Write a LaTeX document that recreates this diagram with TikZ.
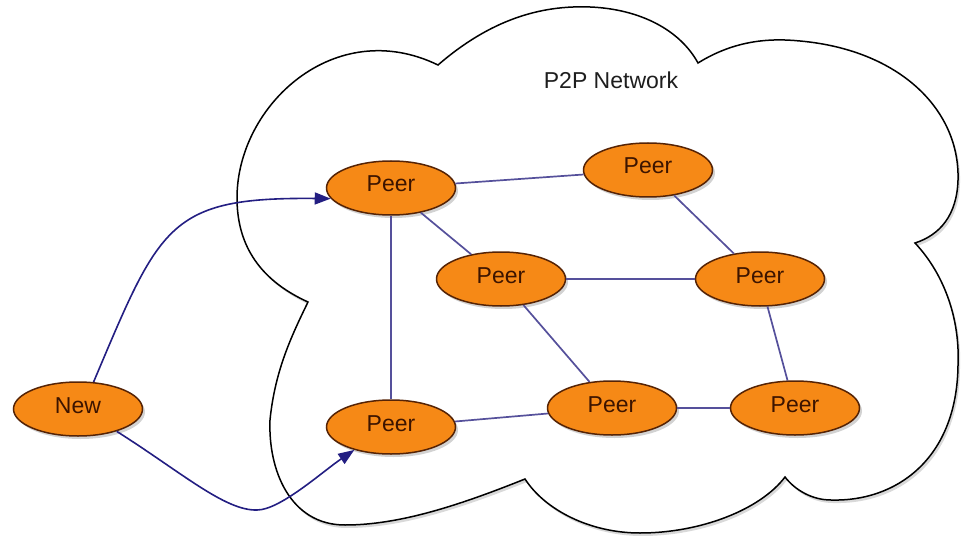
\documentclass[tikz,border=0pt]{standalone}
\usepackage{fontspec}
\setmainfont{Liberation Sans}
\usetikzlibrary{shapes.geometric,shadows,arrows.meta}
\definecolor{peerfill}{RGB}{246,137,22}
\definecolor{peerline}{RGB}{85,35,5}
\definecolor{peertext}{RGB}{60,20,0}
\definecolor{edgecol}{RGB}{85,80,155}
\definecolor{arrowcol}{RGB}{35,30,130}
\definecolor{labeltext}{RGB}{30,30,30}
\begin{document}
\begin{tikzpicture}[x=1pt,y=-1pt,
  peer/.style={ellipse, draw=peerline, line width=1.5pt, fill=peerfill,
    minimum width=129pt, minimum height=54pt, inner sep=0pt, text=peertext,
    font=\fontsize{23}{27}\selectfont, text height=17pt, text depth=9pt,
    drop shadow={shadow xshift=2.5pt, shadow yshift=-3pt, opacity=0.35}},
  link/.style={draw=edgecol, line width=1.7pt},
  joinarrow/.style={draw=arrowcol, line width=1.6pt, -{Triangle[length=16pt,width=12pt]}},
  cloudline/.style={draw=black, line width=1.5pt, fill=white,
    drop shadow={shadow xshift=2pt, shadow yshift=-3pt, opacity=0.3}},
  netlabel/.style={text=labeltext, font=\fontsize{23}{27}\selectfont}
]
\useasboundingbox (0,0) rectangle (968,537);

% cloud
\path[cloudline]
  (308,302) .. controls (255,278) and (237,240) .. (237,198)
  .. controls (237,105) and (335,15) .. (438,65)
  .. controls (490,20) and (540,5) .. (590,7)
  .. controls (640,9) and (680,30) .. (698,63)
  .. controls (735,40) and (770,38) .. (800,41)
  .. controls (900,50) and (960,110) .. (958,180)
  .. controls (957,215) and (940,235) .. (915,243)
  .. controls (945,275) and (960,320) .. (958,365)
  .. controls (957,460) and (895,502) .. (831,500)
  .. controls (812,500) and (795,490) .. (785,477)
  .. controls (760,510) and (700,533) .. (640,533)
  .. controls (590,533) and (545,510) .. (525,479)
  .. controls (460,505) and (400,525) .. (345,525)
  .. controls (290,525) and (268,470) .. (270,420)
  .. controls (275,370) and (292,335) .. (308,302)
  -- cycle;

\node[netlabel] (title) at (611,80) {P2P Network};

% nodes
\node[peer] (new) at (78,409) {New};
\node[peer] (A) at (391,188) {Peer};
\node[peer] (B) at (648,170) {Peer};
\node[peer] (C) at (501,279) {Peer};
\node[peer] (D) at (760,279) {Peer};
\node[peer] (E) at (391,427) {Peer};
\node[peer] (F) at (612,408) {Peer};
\node[peer] (G) at (795,408) {Peer};

% links
\draw[link] (A) -- (B);
\draw[link] (A) -- (C);
\draw[link] (A) -- (E);
\draw[link] (B) -- (D);
\draw[link] (C) -- (D);
\draw[link] (C) -- (F);
\draw[link] (D) -- (G);
\draw[link] (E) -- (F);
\draw[link] (F) -- (G);

% joining arrows
\draw[joinarrow] (new.60) .. controls (160,225) and (168,197) .. (A.190);
\draw[joinarrow] (new.330) .. controls (181,472) and (225,511) .. (257,510)
  .. controls (280,510) and (322,472) .. (E.212);
\end{tikzpicture}
\end{document}
